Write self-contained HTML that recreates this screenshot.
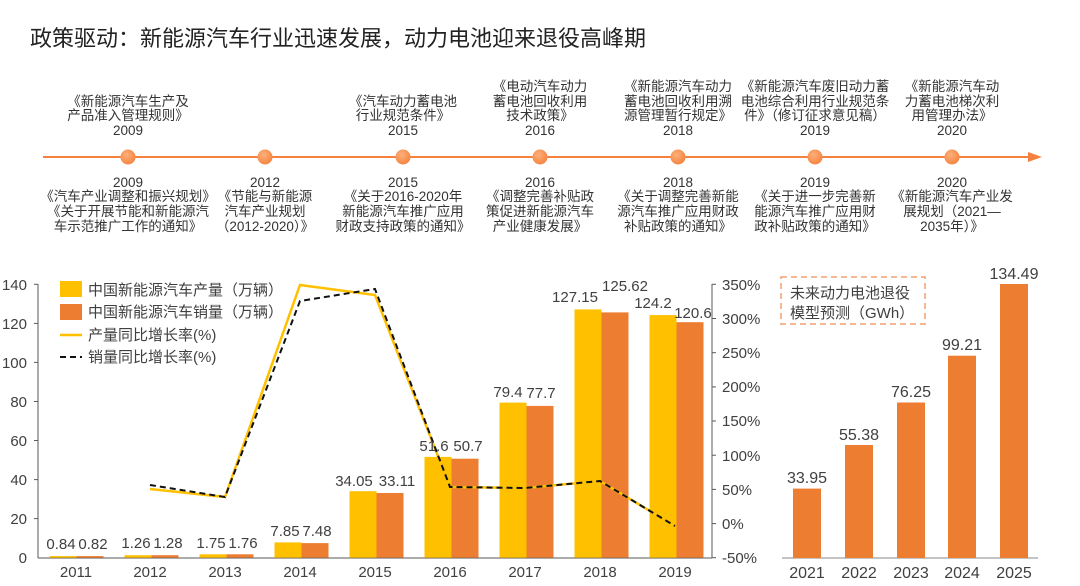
<!DOCTYPE html>
<html><head><meta charset="utf-8"><style>
body{margin:0;background:#fff;}
svg{display:block;font-family:"Liberation Sans","Noto Sans CJK SC",sans-serif;}
</style></head><body>
<svg width="1080" height="586" viewBox="0 0 1080 586" xmlns="http://www.w3.org/2000/svg">
<defs><radialGradient id="dg" cx="0.4" cy="0.35" r="0.7"><stop offset="0" stop-color="#FDB07A"/><stop offset="1" stop-color="#F4823E"/></radialGradient></defs>
<text x="30" y="46" font-size="22" fill="#222">政策驱动：新能源汽车行业迅速发展，动力电池迎来退役高峰期</text>
<!-- timeline -->
<line x1="43" y1="157" x2="1032" y2="157" stroke="#F4823E" stroke-width="2"/>
<polygon points="1028,152 1042,157 1028,162" fill="#F4823E"/>
<g fill="url(#dg)">
<circle cx="128" cy="157" r="7.5"/><circle cx="265" cy="157" r="7.5"/><circle cx="403" cy="157" r="7.5"/><circle cx="540" cy="157" r="7.5"/><circle cx="678" cy="157" r="7.5"/><circle cx="815" cy="157" r="7.5"/><circle cx="952" cy="157" r="7.5"/>
</g>
<g font-size="13.5" fill="#333" text-anchor="middle">
<text x="128" y="106">《新能源汽车生产及</text><text x="128" y="120">产品准入管理规则》</text><text x="128" y="135">2009</text>
<text x="403" y="106">《汽车动力蓄电池</text><text x="403" y="120">行业规范条件》</text><text x="403" y="135">2015</text>
<text x="540" y="91">《电动汽车动力</text><text x="540" y="106">蓄电池回收利用</text><text x="540" y="120">技术政策》</text><text x="540" y="135">2016</text>
<text x="678" y="91">《新能源汽车动力</text><text x="678" y="106">蓄电池回收利用溯</text><text x="678" y="120">源管理暂行规定》</text><text x="678" y="135">2018</text>
<text x="815" y="91">《新能源汽车废旧动力蓄</text><text x="815" y="106">电池综合利用行业规范条</text><text x="815" y="120">件》（修订征求意见稿）</text><text x="815" y="135">2019</text>
<text x="952" y="91">《新能源汽车动</text><text x="952" y="106">力蓄电池梯次利</text><text x="952" y="120">用管理办法》</text><text x="952" y="135">2020</text>
<text x="128" y="187">2009</text><text x="128" y="201">《汽车产业调整和振兴规划》</text><text x="128" y="216">《关于开展节能和新能源汽</text><text x="128" y="231">车示范推广工作的通知》</text>
<text x="265" y="187">2012</text><text x="265" y="201">《节能与新能源</text><text x="265" y="216">汽车产业规划</text><text x="265" y="231">（2012-2020）》</text>
<text x="403" y="187">2015</text><text x="403" y="201">《关于2016-2020年</text><text x="403" y="216">新能源汽车推广应用</text><text x="403" y="231">财政支持政策的通知》</text>
<text x="540" y="187">2016</text><text x="540" y="201">《调整完善补贴政</text><text x="540" y="216">策促进新能源汽车</text><text x="540" y="231">产业健康发展》</text>
<text x="678" y="187">2018</text><text x="678" y="201">《关于调整完善新能</text><text x="678" y="216">源汽车推广应用财政</text><text x="678" y="231">补贴政策的通知》</text>
<text x="815" y="187">2019</text><text x="815" y="201">《关于进一步完善新</text><text x="815" y="216">能源汽车推广应用财</text><text x="815" y="231">政补贴政策的通知》</text>
<text x="952" y="187">2020</text><text x="952" y="201">《新能源汽车产业发</text><text x="952" y="216">展规划（2021—</text><text x="952" y="231">2035年）》</text>
</g>
<!-- left chart axes -->
<g stroke="#595959" stroke-width="1">
<line x1="38" y1="284" x2="38" y2="558"/>
<line x1="38" y1="558" x2="712" y2="558"/>
<line x1="712" y1="284" x2="712" y2="558"/>
<line x1="34" y1="284.3" x2="38" y2="284.3"/><line x1="34" y1="323.4" x2="38" y2="323.4"/><line x1="34" y1="362.4" x2="38" y2="362.4"/><line x1="34" y1="401.5" x2="38" y2="401.5"/><line x1="34" y1="440.5" x2="38" y2="440.5"/><line x1="34" y1="479.6" x2="38" y2="479.6"/><line x1="34" y1="518.6" x2="38" y2="518.6"/>
<line x1="712" y1="284.3" x2="716" y2="284.3"/><line x1="712" y1="318.5" x2="716" y2="318.5"/><line x1="712" y1="352.7" x2="716" y2="352.7"/><line x1="712" y1="386.9" x2="716" y2="386.9"/><line x1="712" y1="421" x2="716" y2="421"/><line x1="712" y1="455.2" x2="716" y2="455.2"/><line x1="712" y1="489.4" x2="716" y2="489.4"/><line x1="712" y1="523.6" x2="716" y2="523.6"/><line x1="712" y1="557.7" x2="716" y2="557.7"/>
</g>
<g font-size="15" fill="#404040" text-anchor="end">
<text x="27" y="290">140</text><text x="27" y="329">120</text><text x="27" y="368">100</text><text x="27" y="407">80</text><text x="27" y="446">60</text><text x="27" y="485">40</text><text x="27" y="524">20</text><text x="27" y="563">0</text>
</g>
<g font-size="15" fill="#404040">
<text x="722" y="290">350%</text><text x="722" y="324">300%</text><text x="722" y="358">250%</text><text x="722" y="392">200%</text><text x="722" y="426">150%</text><text x="722" y="461">100%</text><text x="722" y="495">50%</text><text x="722" y="529">0%</text><text x="722" y="563">-50%</text>
</g>
<!-- bars -->
<g fill="#FFC000">
<rect x="49.5" y="556.1" width="27" height="1.6"/><rect x="124.5" y="555.2" width="27" height="2.5"/><rect x="199.5" y="554.3" width="27" height="3.4"/><rect x="274.5" y="542.4" width="27" height="15.3"/><rect x="349.5" y="491.2" width="27" height="66.5"/><rect x="424.5" y="456.9" width="27" height="100.8"/><rect x="499.5" y="402.6" width="27" height="155.1"/><rect x="574.5" y="309.4" width="27" height="248.3"/><rect x="649.5" y="315.1" width="27" height="242.6"/>
</g>
<g fill="#ED7D31">
<rect x="76.5" y="556.1" width="27" height="1.6"/><rect x="151.5" y="555.2" width="27" height="2.5"/><rect x="226.5" y="554.3" width="27" height="3.4"/><rect x="301.5" y="543.1" width="27" height="14.6"/><rect x="376.5" y="493" width="27" height="64.7"/><rect x="451.5" y="458.7" width="27" height="99"/><rect x="526.5" y="405.9" width="27" height="151.8"/><rect x="601.5" y="312.4" width="27" height="245.3"/><rect x="676.5" y="322.2" width="27" height="235.5"/>
</g>
<!-- lines -->
<polyline points="150,489 225,497 300,285 375,295 450,487 525,488 600,481 675,526" fill="none" stroke="#FFC000" stroke-width="2.5"/>
<polyline points="150,485 225,497 300,301 375,289 450,487 525,488 600,481 675,526" fill="none" stroke="#111" stroke-width="2" stroke-dasharray="6,4"/>
<!-- bar labels -->
<g font-size="15" fill="#404040" text-anchor="middle">
<text x="61" y="549">0.84</text><text x="93" y="549">0.82</text>
<text x="136" y="548">1.26</text><text x="168" y="548">1.28</text>
<text x="211" y="548">1.75</text><text x="243" y="548">1.76</text>
<text x="285" y="536">7.85</text><text x="317" y="536">7.48</text>
<text x="354" y="486">34.05</text><text x="397" y="486">33.11</text>
<text x="434" y="451">51.6</text><text x="468" y="451">50.7</text>
<text x="508" y="397">79.4</text><text x="541" y="398">77.7</text>
<text x="575" y="302">127.15</text><text x="625" y="291">125.62</text>
<text x="653" y="308">124.2</text><text x="693" y="318">120.6</text>
</g>
<g font-size="15" fill="#404040" text-anchor="middle">
<text x="76" y="577">2011</text><text x="150" y="577">2012</text><text x="225" y="577">2013</text><text x="300" y="577">2014</text><text x="375" y="577">2015</text><text x="450" y="577">2016</text><text x="525" y="577">2017</text><text x="600" y="577">2018</text><text x="675" y="577">2019</text>
</g>
<!-- legend -->
<rect x="60" y="281" width="22" height="16" fill="#FFC000"/>
<rect x="60" y="304" width="22" height="16" fill="#ED7D31"/>
<line x1="60" y1="335" x2="82" y2="335" stroke="#FFC000" stroke-width="2.5"/>
<line x1="60" y1="357" x2="82" y2="357" stroke="#111" stroke-width="2" stroke-dasharray="6,4"/>
<g font-size="15" fill="#404040">
<text x="88" y="295">中国新能源汽车产量（万辆）</text>
<text x="88" y="317">中国新能源汽车销量（万辆）</text>
<text x="88" y="340">产量同比增长率(%)</text>
<text x="88" y="362">销量同比增长率(%)</text>
</g>
<!-- right chart -->
<line x1="782" y1="558" x2="1038" y2="558" stroke="#888" stroke-width="1"/>
<g fill="#ED7D31">
<rect x="793" y="488.6" width="28" height="69.4"/><rect x="845" y="445" width="28" height="113"/><rect x="897" y="402.5" width="28" height="155.5"/><rect x="948" y="355.7" width="28" height="202.3"/><rect x="1000" y="284" width="28" height="274"/>
</g>
<g font-size="16" fill="#404040" text-anchor="middle">
<text x="807" y="483">33.95</text><text x="859" y="440">55.38</text><text x="911" y="397">76.25</text><text x="962" y="350">99.21</text><text x="1014" y="279">134.49</text>
<text x="807" y="578">2021</text><text x="859" y="578">2022</text><text x="911" y="578">2023</text><text x="962" y="578">2024</text><text x="1014" y="578">2025</text>
</g>
<rect x="781" y="277" width="144" height="47" fill="none" stroke="#F4A070" stroke-width="1.5" stroke-dasharray="6,4"/>
<g font-size="15" fill="#404040">
<text x="790" y="298">未来动力电池退役</text>
<text x="790" y="318">模型预测（GWh）</text>
</g>
</svg>
</body></html>
